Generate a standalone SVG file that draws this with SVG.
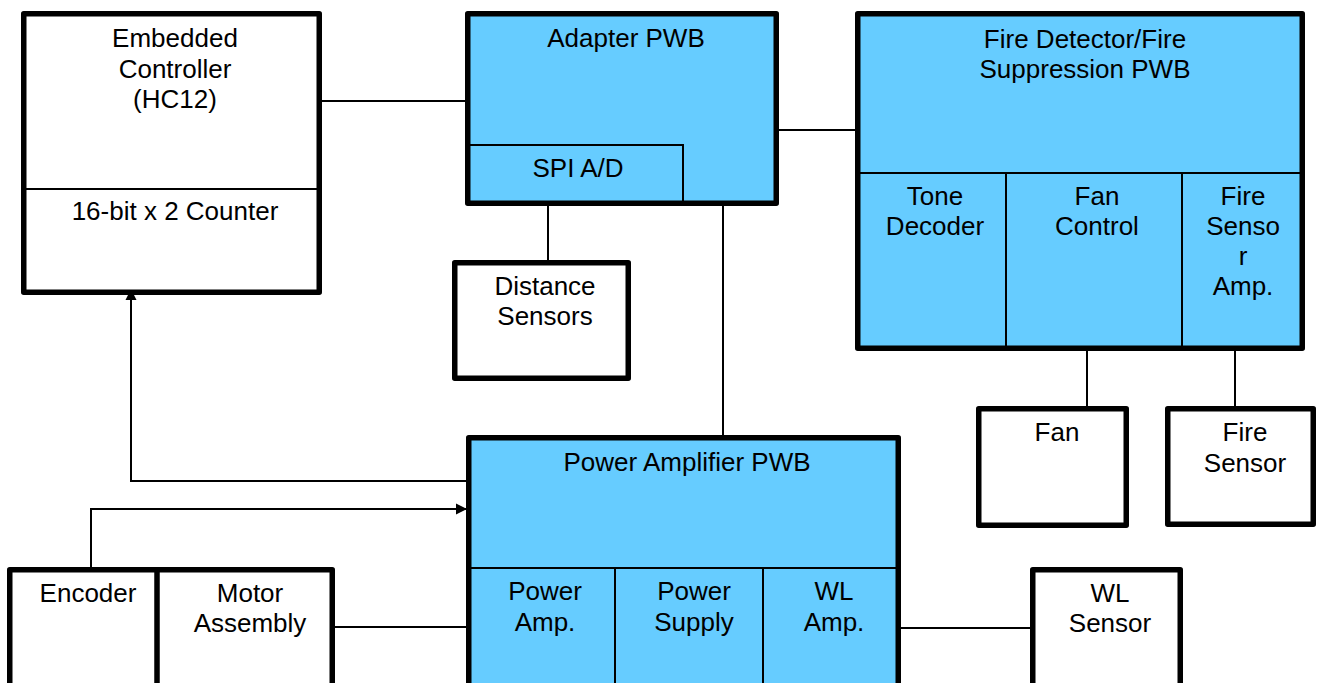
<svg xmlns="http://www.w3.org/2000/svg" width="1317" height="683" viewBox="0 0 1317 683">
<style>
.box{stroke:#000;stroke-width:5.5;stroke-linejoin:round}
.w{fill:#fff}
.b{fill:#66CCFF}
.div{stroke:#000;stroke-width:2;fill:none}
.con{stroke:#000;stroke-width:2;fill:none}
text{font-family:"Liberation Sans",Arial,sans-serif;font-size:26px;fill:#000;text-anchor:middle}
</style>
<defs>
<marker id="arr" viewBox="0 0 10 10" refX="10" refY="5" markerWidth="11" markerHeight="13" markerUnits="userSpaceOnUse" orient="auto">
<path d="M0,0 L10,5 L0,10 Z" fill="#000"/>
</marker>
</defs>
<rect width="1317" height="683" fill="#fff"/>
<g id="connectors">
<line class="con" x1="322" y1="101" x2="465" y2="101"/>
<line class="con" x1="779" y1="130" x2="855" y2="130"/>
<line class="con" x1="548" y1="206" x2="548" y2="260"/>
<line class="con" x1="723" y1="206" x2="723" y2="435"/>
<line class="con" x1="1087" y1="351" x2="1087" y2="406"/>
<line class="con" x1="1235" y1="351" x2="1235" y2="406"/>
<path class="con" d="M466,481 H131 V289" marker-end="url(#arr)"/>
<path class="con" d="M91,567 V509 H467" marker-end="url(#arr)"/>
<line class="con" x1="335" y1="627" x2="466" y2="627"/>
<line class="con" x1="901" y1="628" x2="1030" y2="628"/>
</g>
<g id="embedded-controller">
<rect class="box w" x="23.75" y="13.75" width="295.5" height="278.5"/>
<line class="div" x1="24" y1="189" x2="320" y2="189"/>
<text x="175" y="47">Embedded</text>
<text x="175" y="78">Controller</text>
<text x="175" y="108">(HC12)</text>
<text x="175" y="220">16-bit x 2 Counter</text>
</g>
<g id="adapter-pwb">
<rect class="box b" x="467.75" y="13.75" width="308.5" height="189.5"/>
<polyline class="div" points="469,145 683,145 683,204"/>
<text x="626" y="47">Adapter PWB</text>
<text x="578" y="177">SPI A/D</text>
</g>
<g id="fire-detector-pwb">
<rect class="box b" x="857.75" y="13.75" width="444.5" height="334.5"/>
<line class="div" x1="859" y1="173" x2="1301" y2="173"/>
<line class="div" x1="1006" y1="173" x2="1006" y2="347"/>
<line class="div" x1="1182" y1="173" x2="1182" y2="347"/>
<text x="1085" y="48">Fire Detector/Fire</text>
<text x="1085" y="78">Suppression PWB</text>
<text x="935" y="205">Tone</text>
<text x="935" y="235">Decoder</text>
<text x="1097" y="205">Fan</text>
<text x="1097" y="235">Control</text>
<text x="1243" y="205">Fire</text>
<text x="1243" y="235">Senso</text>
<text x="1243" y="265">r</text>
<text x="1243" y="295">Amp.</text>
</g>
<g id="distance-sensors">
<rect class="box w" x="454.75" y="262.75" width="173.5" height="115.5"/>
<text x="545" y="295">Distance</text>
<text x="545" y="325">Sensors</text>
</g>
<g id="fan">
<rect class="box w" x="978.75" y="408.75" width="147.5" height="116.5"/>
<text x="1057" y="441">Fan</text>
</g>
<g id="fire-sensor">
<rect class="box w" x="1167.75" y="408.75" width="145.5" height="115.5"/>
<text x="1245" y="441">Fire</text>
<text x="1245" y="472">Sensor</text>
</g>
<g id="power-amplifier-pwb">
<rect class="box b" x="468.75" y="437.75" width="429.5" height="270"/>
<line class="div" x1="470" y1="568" x2="897" y2="568"/>
<line class="div" x1="615" y1="568" x2="615" y2="700"/>
<line class="div" x1="763" y1="568" x2="763" y2="700"/>
<text x="687" y="471">Power Amplifier PWB</text>
<text x="545" y="600">Power</text>
<text x="545" y="631">Amp.</text>
<text x="694" y="600">Power</text>
<text x="694" y="631">Supply</text>
<text x="834" y="600">WL</text>
<text x="834" y="631">Amp.</text>
</g>
<g id="encoder-motor">
<rect class="box w" x="9.75" y="569.75" width="322.5" height="140"/>
<line stroke="#000" stroke-width="5.5" x1="157" y1="569" x2="157" y2="700"/>
<text x="88" y="602">Encoder</text>
<text x="250" y="602">Motor</text>
<text x="250" y="632">Assembly</text>
</g>
<g id="wl-sensor">
<rect class="box w" x="1032.75" y="569.75" width="147.5" height="140"/>
<text x="1110" y="602">WL</text>
<text x="1110" y="632">Sensor</text>
</g>
</svg>
